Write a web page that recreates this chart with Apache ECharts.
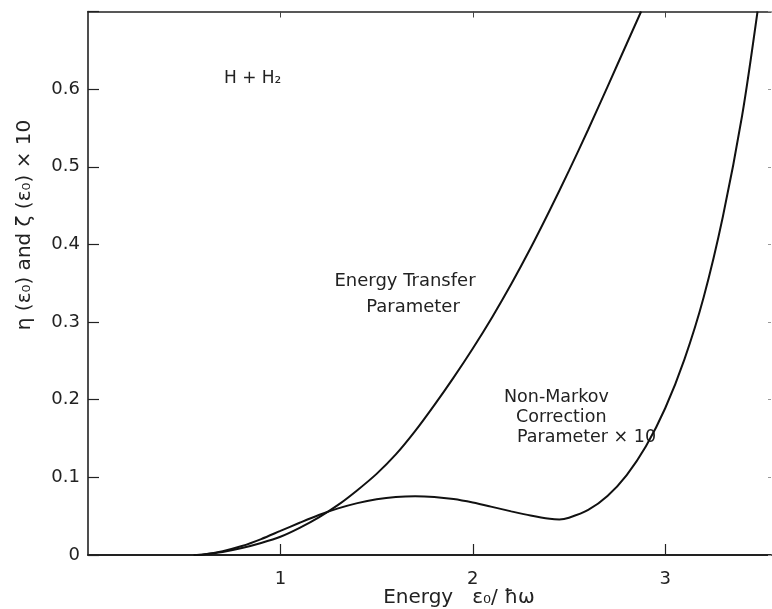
<!DOCTYPE html>
<html>
<head>
<meta charset="utf-8">
<script src="https://cdn.jsdelivr.net/npm/echarts@6/dist/echarts.min.js"></script>
<style>
html,body{margin:0;padding:0;background:#fff;}
#c{width:772px;height:609px;}
</style>
</head>
<body>
<div id="c"></div>
<script>
// Energy transfer parameter eta(e0)
const etX = [0.55, 0.6, 0.7, 0.8, 0.9, 1.0, 1.1, 1.2, 1.3, 1.4, 1.5, 1.6, 1.7, 1.8, 1.9, 2.0, 2.1, 2.2, 2.3, 2.4, 2.5, 2.6, 2.7, 2.8, 2.875];
const etY = [0, 0.0008, 0.0040, 0.0090, 0.0155, 0.0235, 0.0350, 0.0485, 0.0645, 0.0835, 0.1045, 0.1295, 0.1595, 0.1930, 0.2285, 0.2660, 0.3060, 0.3490, 0.3950, 0.4440, 0.4950, 0.5480, 0.6030, 0.6585, 0.7000];
// Non-Markov correction parameter x 10
const nmX = [0.55, 0.6, 0.7, 0.8, 0.9, 1.0, 1.1, 1.2, 1.3, 1.4, 1.5, 1.6, 1.7, 1.8, 1.9, 2.0, 2.1, 2.2, 2.3, 2.4, 2.45, 2.5, 2.6, 2.7, 2.8, 2.9, 3.0, 3.1, 3.2, 3.3, 3.4, 3.48];
const nmY = [0, 0.0008, 0.0050, 0.0115, 0.0205, 0.0310, 0.0415, 0.0515, 0.0600, 0.0668, 0.0718, 0.0748, 0.0758, 0.0748, 0.0720, 0.0675, 0.0620, 0.0562, 0.0508, 0.0466, 0.0458, 0.0480, 0.0580, 0.0760, 0.1030, 0.1400, 0.1890, 0.2520, 0.3320, 0.4360, 0.5660, 0.7000];
const xTickLabels = [1, 2, 3];
const yTickLabels = [0, 0.1, 0.2, 0.3, 0.4, 0.5, 0.6];

const FONT = 'DejaVu Sans';
const chart = echarts.init(document.getElementById('c'), null, {renderer: 'canvas'});
const zip = (xs, ys) => xs.map((x, i) => [x, ys[i]]);

const option = {
  backgroundColor: '#fff',
  animation: false,
  grid: {left: 88, right: 1, top: 11.5, bottom: 54, containLabel: false},
  xAxis: [{
    type: 'value', min: 0, max: 3.55, interval: 1, position: 'bottom',
    axisLine: {show: true, onZero: false, lineStyle: {color: '#222', width: 2}},
    axisTick: {show: true, inside: true, length: 11, customValues: xTickLabels, lineStyle: {color: '#222', width: 1.2}},
    axisLabel: {
      margin: 15, color: '#222', fontFamily: FONT, fontSize: 18,
      customValues: xTickLabels,
      formatter: v => xTickLabels.indexOf(Math.round(v * 100) / 100) >= 0 ? String(v) : ''
    },
    splitLine: {show: false}
  }, {
    type: 'value', min: 0, max: 3.55, interval: 1, position: 'top',
    axisLine: {show: true, onZero: false, lineStyle: {color: '#222', width: 1.6}},
    axisTick: {show: true, inside: true, length: 6, customValues: xTickLabels, lineStyle: {color: '#444', width: 1}},
    axisLabel: {show: false}, splitLine: {show: false}
  }],
  yAxis: [{
    type: 'value', min: 0, max: 0.7, interval: 0.1, position: 'left',
    axisLine: {show: true, onZero: false, lineStyle: {color: '#222', width: 1.6}},
    axisTick: {show: true, inside: true, length: 11, lineStyle: {color: '#222', width: 1.2}},
    axisLabel: {
      margin: 8, color: '#222', fontFamily: FONT, fontSize: 18,
      formatter: v => {
        const r = Math.round(v * 10) / 10;
        if (yTickLabels.indexOf(r) < 0) return '';
        return r === 0 ? '0' : r.toFixed(1);
      }
    },
    splitLine: {show: false}
  }, {
    type: 'value', min: 0, max: 0.7, interval: 0.1, position: 'right',
    axisLine: {show: false, onZero: false},
    axisTick: {show: true, inside: true, length: 3, lineStyle: {color: '#999', width: 1}},
    axisLabel: {show: false}, splitLine: {show: false}
  }],
  series: [{
    name: 'Energy Transfer Parameter', type: 'line', data: zip(etX, etY),
    smooth: 0.3, showSymbol: false,
    lineStyle: {color: '#111', width: 2}
  }, {
    name: 'Non-Markov Correction Parameter x 10', type: 'line', data: zip(nmX, nmY),
    smooth: 0.3, showSymbol: false,
    lineStyle: {color: '#111', width: 2}
  }],
  graphic: [
    {type: 'text', left: 224, top: 70, style: {text: 'H + H₂', fill: '#222', font: '17px "' + FONT + '"'}},
    {type: 'text', x: 405, y: 281, style: {text: 'Energy Transfer', fill: '#222', font: '18px "' + FONT + '"', align: 'center', verticalAlign: 'middle'}},
    {type: 'text', x: 413, y: 307, style: {text: 'Parameter', fill: '#222', font: '18px "' + FONT + '"', align: 'center', verticalAlign: 'middle'}},
    {type: 'text', x: 504, y: 397, style: {text: 'Non-Markov', fill: '#222', font: '17.5px "' + FONT + '"', align: 'left', verticalAlign: 'middle'}},
    {type: 'text', x: 516, y: 417, style: {text: 'Correction', fill: '#222', font: '17.5px "' + FONT + '"', align: 'left', verticalAlign: 'middle'}},
    {type: 'text', x: 517, y: 437, style: {text: 'Parameter × 10', fill: '#222', font: '17.5px "' + FONT + '"', align: 'left', verticalAlign: 'middle'}},
    {type: 'text', x: 459, y: 598, style: {text: 'Energy   ε₀/ ħω', fill: '#222', font: '20px "' + FONT + '"', align: 'center', verticalAlign: 'middle'}},
    {type: 'text', x: 25, y: 225, rotation: Math.PI / 2, style: {text: 'η (ε₀) and ζ (ε₀) × 10', fill: '#222', font: '20px "' + FONT + '"', align: 'center', verticalAlign: 'middle'}}
  ]
};
chart.setOption(option);
</script>
</body>
</html>
